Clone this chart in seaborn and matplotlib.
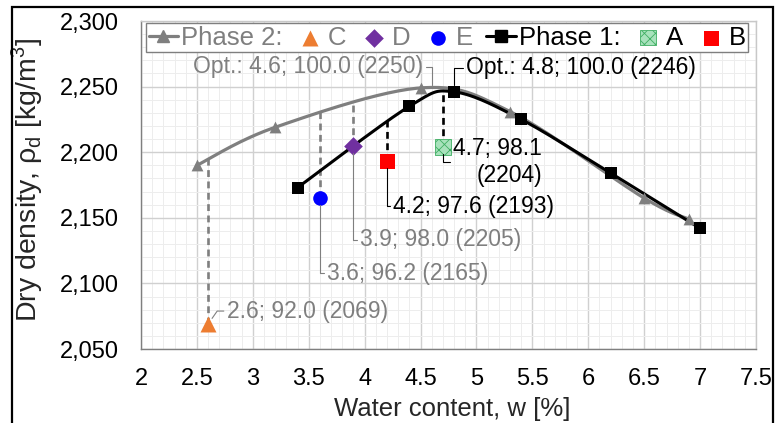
import numpy as np
import pandas as pd
import matplotlib
matplotlib.use("Agg")
import matplotlib.pyplot as plt
import seaborn as sns
from matplotlib.lines import Line2D
from matplotlib.patches import Rectangle
from matplotlib.ticker import MultipleLocator, FuncFormatter

# ---------------- data ----------------
phase1_w = [3.4, 4.4, 4.8, 5.4, 6.2, 7.0]
phase1_rho = [2173, 2235, 2246, 2225, 2184, 2142]
phase2_w = [2.5, 3.2, 4.5, 5.3, 6.5, 6.9]
phase2_rho = [2190, 2219, 2249, 2231, 2165, 2149]

point_names = ["C", "D", "E", "A", "B"]
point_w = [2.6, 3.9, 3.6, 4.7, 4.2]
point_rho = [2069, 2205, 2165, 2204, 2193]
point_phase = [2, 2, 2, 1, 1]
point_labels = ["2.6; 92.0 (2069)", "3.9; 98.0 (2205)", "3.6; 96.2 (2165)",
                "4.7; 98.1\n(2204)", "4.2; 97.6 (2193)"]

opt1_w, opt1_rho, opt1_label = 4.8, 2246, "Opt.: 4.8; 100.0 (2246)"
opt2_w, opt2_rho, opt2_label = 4.6, 2250, "Opt.: 4.6; 100.0 (2250)"

legend_labels = ["Phase 2:", "C", "D", "E", "Phase 1:", "A", "B"]
x_ticks = [2, 2.5, 3, 3.5, 4, 4.5, 5, 5.5, 6, 6.5, 7, 7.5]
y_ticks = [2050, 2100, 2150, 2200, 2250, 2300]

# ---------------- style ----------------
sns.set_style("white")
plt.rcParams["font.family"] = ["Liberation Sans", "DejaVu Sans"]
plt.rcParams["mathtext.fontset"] = "custom"
plt.rcParams["mathtext.rm"] = "Liberation Sans"
plt.rcParams["hatch.linewidth"] = 0.6

GREY = "#7f7f7f"
BLACK = "#000000"
point_style = {
    "C": dict(marker="^", s=11.5 ** 2, color="#ED7D31", edgecolor="#ED7D31"),
    "D": dict(marker="D", s=9.5 ** 2, color="#7030A0", edgecolor="#7030A0"),
    "E": dict(marker="o", s=10.5 ** 2, color="#0000FF", edgecolor="#0000FF"),
    "A": dict(marker="s", s=11.0 ** 2, color="#a8e2bc", edgecolor="#3fae62", hatch="xxx"),
    "B": dict(marker="s", s=10.8 ** 2, color="#FF0000", edgecolor="#FF0000"),
}
# text offsets in pixels (dx, dy)
label_offsets = {"C": (19, 13), "D": (7, -94), "E": (7, -75), "A": (10, -15), "B": (6, -45)}
ANN_FS = 16.5


def smooth(xs, ys, n=30):
    P = np.column_stack([xs, ys]).astype(float)
    P = np.vstack([P[0], P, P[-1]])
    t = np.linspace(0, 1, n)[:, None]
    out = []
    for i in range(1, len(P) - 2):
        p0, p1, p2, p3 = P[i - 1], P[i], P[i + 1], P[i + 2]
        c1 = p1 + (p2 - p0) / 6.0
        c2 = p2 - (p3 - p1) / 6.0
        seg = (1 - t) ** 3 * p1 + 3 * (1 - t) ** 2 * t * c1 + 3 * (1 - t) * t ** 2 * c2 + t ** 3 * p2
        out.append(seg if i == 1 else seg[1:])
    return np.vstack(out)


fig = plt.figure(figsize=(7.77, 4.23), dpi=100)
ax = fig.add_axes([141 / 777, 1 - 349 / 423, 615 / 777, 328 / 423])

ax.set_xlim(2, 7.5)
ax.set_ylim(2050, 2300)
ax.set_xticks(x_ticks)
ax.set_yticks(y_ticks)
ax.xaxis.set_minor_locator(MultipleLocator(0.1))
ax.yaxis.set_minor_locator(MultipleLocator(10))
ax.xaxis.set_major_formatter(FuncFormatter(lambda v, p: f"{v:g}"))
ax.yaxis.set_major_formatter(FuncFormatter(lambda v, p: f"{v:,.0f}"))
ax.set_axisbelow(True)
ax.grid(which="major", color="#d0d0d0", lw=1.0)
ax.grid(which="minor", color="#ededed", lw=0.7)
ax.tick_params(axis="both", which="major", direction="out", length=5, width=0.8,
               color=GREY, labelsize=17, labelcolor="black")
ax.tick_params(axis="both", which="minor", direction="out", length=3.5, width=0.8, color=GREY)
ax.tick_params(axis="y", which="major", pad=11)
ax.tick_params(axis="x", which="major", pad=9)
for side in ["left", "bottom"]:
    ax.spines[side].set_color(GREY)
    ax.spines[side].set_linewidth(1.0)
for side in ["top", "right"]:
    ax.spines[side].set_color("#c8c8c8")
    ax.spines[side].set_linewidth(1.0)

# ---------------- curves ----------------
c2 = smooth(phase2_w, phase2_rho)
c1 = smooth(phase1_w, phase1_rho)
sns.lineplot(x=c2[:, 0], y=c2[:, 1], sort=False, estimator=None, color=GREY, lw=2.3, ax=ax, zorder=3)
sns.lineplot(x=c1[:, 0], y=c1[:, 1], sort=False, estimator=None, color=BLACK, lw=2.2, ax=ax, zorder=3.5)
sns.scatterplot(x=phase2_w, y=phase2_rho, marker="^", s=8.5 ** 2, color=GREY, edgecolor=GREY,
                linewidth=0, ax=ax, zorder=4, legend=False)
sns.scatterplot(x=phase1_w, y=phase1_rho, marker="s", s=8 ** 2, color=BLACK, edgecolor=BLACK,
                linewidth=0, ax=ax, zorder=4.5, legend=False)

# ---------------- dashed drop lines ----------------
for name, w, r, ph in zip(point_names, point_w, point_rho, point_phase):
    curve = c2 if ph == 2 else c1
    ytop = np.interp(w, curve[:, 0], curve[:, 1])
    col = GREY if ph == 2 else BLACK
    ax.plot([w, w], [r, ytop], color=col, lw=1.9, ls=(0, (2.6, 1.7)), zorder=2.5)

# ---------------- individual points ----------------
handles = {}
for name, w, r in zip(point_names, point_w, point_rho):
    st = dict(point_style[name])
    sns.scatterplot(x=[w], y=[r], linewidth=0.6 if name == "A" else 0, ax=ax, zorder=6,
                    legend=False, **st)
    handles[name] = ax.collections[-1]

# ---------------- annotations ----------------
for name, w, r, ph, lab in zip(point_names, point_w, point_rho, point_phase, point_labels):
    col = GREY if ph == 2 else BLACK
    dx, dy = label_offsets[name]
    cs = "angle,angleA=0,angleB=55,rad=0" if name == "C" else "angle,angleA=0,angleB=90,rad=0"
    ax.annotate(lab, xy=(w, r), xytext=(dx, dy), textcoords="offset pixels",
                ha="left", va="center", multialignment="right", fontsize=ANN_FS, color=col,
                arrowprops=dict(arrowstyle="-", color=col, lw=0.8, connectionstyle=cs,
                                shrinkA=0, shrinkB=5, relpos=(0, 0.5)), zorder=7)

ax.annotate(opt2_label, xy=(opt2_w, opt2_rho), xytext=(-9, 20), textcoords="offset pixels",
            ha="right", va="center", fontsize=ANN_FS, color=GREY,
            arrowprops=dict(arrowstyle="-", color=GREY, lw=0.8,
                            connectionstyle="angle,angleA=0,angleB=90,rad=0",
                            shrinkA=0, shrinkB=1, relpos=(1, 0.5)), zorder=7)
ax.annotate(opt1_label, xy=(opt1_w, opt1_rho), xytext=(12, 24), textcoords="offset pixels",
            ha="left", va="center", fontsize=ANN_FS, color=BLACK,
            arrowprops=dict(arrowstyle="-", color=BLACK, lw=0.8,
                            connectionstyle="angle,angleA=0,angleB=90,rad=0",
                            shrinkA=0, shrinkB=5, relpos=(0, 0.5)), zorder=7)

# ---------------- labels ----------------
ax.set_xlabel("Water content, w [%]", fontsize=18.5)
ax.xaxis.set_label_coords((452 - 141) / 615, (349 - 397) / 328)
ax.set_ylabel("Dry density, ρ$_\\mathregular{d}$ [kg/m$^\\mathregular{3}$]", fontsize=20.5)
ax.yaxis.set_label_coords((45 - 141) / 615, (349 - 180) / 328)

# ---------------- legend ----------------
h_p2 = Line2D([], [], color=GREY, lw=2.3, marker="^", ms=8.5)
h_p1 = Line2D([], [], color=BLACK, lw=2.2, marker="s", ms=8)
leg_handles = [h_p2, handles["C"], handles["D"], handles["E"], h_p1, handles["A"], handles["B"]]
leg = ax.legend(leg_handles, legend_labels, ncol=7, loc="upper left",
                bbox_to_anchor=(5 / 615, (349 - 23) / 328), borderaxespad=0,
                fontsize=18.5, handlelength=1.15, handletextpad=0.12, columnspacing=0.5,
                borderpad=0.1, frameon=True, fancybox=False, framealpha=1,
                edgecolor=GREY, scatterpoints=1)
leg.get_frame().set_linewidth(1.0)
leg.set_zorder(10)
for txt, lab in zip(leg.get_texts(), legend_labels):
    txt.set_color(GREY if lab in ("Phase 2:", "C", "D", "E") else BLACK)

# outer border
fig.add_artist(Rectangle((12 / 777, -0.1), (773 - 12) / 777, (423 - 7) / 423 + 0.1,
                         transform=fig.transFigure, fill=False, ec="black", lw=1.6))

fig.savefig("out.png", dpi=100)
